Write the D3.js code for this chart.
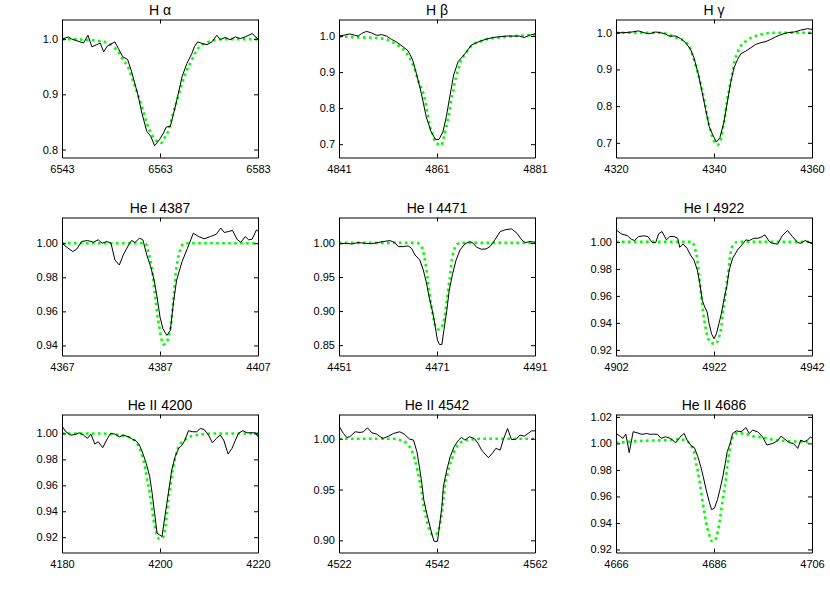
<!DOCTYPE html>
<html><head><meta charset="utf-8">
<script src="https://cdn.jsdelivr.net/npm/d3@7"></script>
<style>
body{margin:0;background:#fff}
text{font-family:"Liberation Sans",Arial,Helvetica,sans-serif;fill:#000}
</style>
</head><body>
<svg id="chart" width="830" height="593"></svg>
<script>
// ---------- data ----------
const titles = ["H \u03b1","H \u03b2","H \u03b3","He I 4387","He I 4471","He I 4922","He II 4200","He II 4542","He II 4686"];
const xTicks = [[6543,6563,6583],[4841,4861,4881],[4320,4340,4360],
                [4367,4387,4407],[4451,4471,4491],[4902,4922,4942],
                [4180,4200,4220],[4522,4542,4562],[4666,4686,4706]];
const yTicks = [[0.8,0.9,1.0],[0.7,0.8,0.9,1.0],[0.7,0.8,0.9,1.0],
                [0.94,0.96,0.98,1.00],[0.85,0.90,0.95,1.00],[0.92,0.94,0.96,0.98,1.00],
                [0.92,0.94,0.96,0.98,1.00],[0.90,0.95,1.00],[0.92,0.94,0.96,0.98,1.00,1.02]];
const yLabelDigits = [1,1,1,2,2,2,2,2,2];
const yLimits = [[0.7856,1.0355],[0.663,1.046],[0.66,1.036],
                 [0.9341,1.0151],[0.8348,1.0373],[0.9158,1.0181],
                 [0.9082,1.0146],[0.888,1.0239],[0.9177,1.0218]];

const haObs = [[6543,1.000],[6544.3,1.004],[6545,1.000],[6546.7,0.995],[6547.4,0.993],[6548.3,1.007],[6549.1,0.986],[6550.1,0.990],[6550.8,0.993],[6551.5,0.977],[6552.3,0.988],[6552.8,0.990],[6553.8,0.995],[6554.5,0.983],[6555.4,0.968],[6556.4,0.963],[6557.2,0.941],[6558.5,0.899],[6559.3,0.866],[6560.3,0.833],[6561.1,0.824],[6561.9,0.807],[6562.9,0.818],[6563.7,0.830],[6564.3,0.841],[6565.1,0.842],[6565.8,0.866],[6566.6,0.896],[6567.5,0.932],[6568.5,0.956],[6569.5,0.974],[6570,0.986],[6570.7,0.995],[6571.6,0.992],[6572.6,0.990],[6573.6,0.995],[6574.6,1.007],[6575.3,0.999],[6576.3,1.003],[6577.3,0.999],[6578.4,1.004],[6579.4,1.001],[6580.4,1.004],[6581.8,1.010],[6583,1.000]];
const haMod = [[6543,1.000],[6545,1.000],[6547,0.999],[6549,0.998],[6551,0.996],[6552.3,0.993],[6553.5,0.986],[6554.5,0.977],[6555.5,0.962],[6556.6,0.947],[6557.2,0.932],[6557.9,0.914],[6558.6,0.896],[6559.3,0.878],[6560.3,0.848],[6561.3,0.827],[6562.4,0.815],[6563.2,0.812],[6564.1,0.824],[6564.8,0.836],[6565.4,0.857],[6566.1,0.878],[6566.8,0.899],[6567.5,0.920],[6568.5,0.944],[6569.5,0.962],[6570.5,0.980],[6571.5,0.989],[6572.6,0.994],[6574,0.998],[6576,1.000],[6583,1.000]];

const hbObs = [[4841,1.000],[4842.2,1.003],[4843.2,1.006],[4844.3,1.002],[4844.9,1.000],[4845.6,1.007],[4846.6,1.013],[4847.6,1.009],[4848.7,1.002],[4849.7,1.004],[4850.7,1.000],[4851.7,0.991],[4852.7,0.984],[4854.1,0.970],[4855.1,0.959],[4856,0.935],[4856.8,0.896],[4857.8,0.841],[4858.8,0.776],[4859.8,0.734],[4860.7,0.713],[4861.4,0.713],[4862.2,0.734],[4862.9,0.776],[4863.6,0.831],[4864.4,0.892],[4865.3,0.929],[4866.2,0.943],[4867,0.956],[4868,0.975],[4869,0.981],[4870,0.987],[4871,0.991],[4872.4,0.996],[4873.7,0.998],[4875.1,1.000],[4876.5,1.000],[4877.8,1.000],[4878.8,0.996],[4879.8,1.002],[4881,1.006]];
const hbMod = [[4841,0.999],[4842.6,0.998],[4845.3,0.996],[4848,0.995],[4849.3,0.994],[4850.7,0.991],[4851.7,0.984],[4852.7,0.977],[4853.7,0.968],[4854.8,0.952],[4855.8,0.929],[4856.5,0.906],[4857.1,0.878],[4857.8,0.855],[4858.5,0.827],[4858.8,0.804],[4859.2,0.776],[4859.5,0.753],[4860.1,0.730],[4860.5,0.711],[4861.2,0.700],[4861.9,0.697],[4862.4,0.720],[4862.9,0.748],[4863.2,0.767],[4863.6,0.794],[4863.9,0.822],[4864.3,0.845],[4864.6,0.869],[4864.9,0.887],[4865.4,0.910],[4865.9,0.933],[4866.6,0.947],[4867.6,0.966],[4868.7,0.980],[4869.7,0.984],[4871,0.991],[4872.4,0.994],[4873.7,0.996],[4875.1,0.998],[4876.5,1.000],[4879.2,1.002],[4881,1.003]];

const hgObs = [[4320,1.000],[4321.6,1.000],[4323.3,1.002],[4324.6,1.005],[4325.7,1.000],[4326.7,0.997],[4328.1,1.002],[4329.1,1.000],[4330.1,0.997],[4330.8,0.991],[4332.2,0.991],[4333.2,0.984],[4334.2,0.973],[4335.2,0.955],[4335.9,0.932],[4336.9,0.882],[4337.6,0.836],[4338.3,0.791],[4339,0.745],[4339.7,0.723],[4340.5,0.702],[4341.2,0.714],[4342,0.755],[4342.7,0.809],[4343.4,0.864],[4344.1,0.905],[4344.8,0.927],[4345.5,0.943],[4346.5,0.950],[4347.5,0.959],[4348.5,0.968],[4349.6,0.973],[4350.6,0.976],[4351.6,0.982],[4352.6,0.989],[4353.7,0.995],[4355,1.000],[4356.4,1.002],[4357.7,1.007],[4359.1,1.011],[4360,1.009]];
const hgMod = [[4320,1.000],[4325,1.000],[4329,1.000],[4330.5,0.996],[4331.8,0.988],[4333.2,0.982],[4334.2,0.975],[4335.2,0.955],[4335.9,0.927],[4336.6,0.895],[4337.3,0.859],[4338,0.818],[4338.6,0.773],[4339.3,0.732],[4340,0.705],[4340.7,0.695],[4341.2,0.700],[4341.7,0.732],[4342.2,0.768],[4342.7,0.818],[4343.3,0.859],[4343.8,0.895],[4344.2,0.923],[4344.8,0.945],[4345.5,0.964],[4346.5,0.977],[4347.5,0.986],[4348.9,0.993],[4350.2,0.997],[4352.3,1.000],[4360,1.000]];

const he4387Obs = [[4367,1.0000],[4368,0.9976],[4369.2,0.9951],[4370,0.9965],[4371,1.0010],[4372.2,1.0016],[4373.4,1.0006],[4374.4,1.0020],[4375.2,1.0000],[4376.1,1.0010],[4377,1.0000],[4377.8,0.9902],[4378.7,0.9872],[4379.5,0.9931],[4380.6,0.9990],[4381.2,1.0016],[4381.9,1.0004],[4382.8,1.0030],[4383.5,1.0020],[4384.3,0.9931],[4385.1,0.9862],[4385.8,0.9784],[4386.4,0.9685],[4387,0.9567],[4387.6,0.9498],[4388.4,0.9459],[4389.1,0.9488],[4389.8,0.9666],[4390.4,0.9784],[4391.5,0.9892],[4392.6,0.9970],[4393.8,1.0059],[4394.9,1.0039],[4396,1.0026],[4397.3,1.0039],[4398.5,1.0053],[4399.4,1.0089],[4400.1,1.0063],[4401,1.0069],[4401.8,1.0075],[4402.8,1.0020],[4403.5,1.0006],[4404.4,1.0039],[4405.1,1.0020],[4405.8,1.0024],[4406.7,1.0079],[4407,1.0069]];
const he4387Mod = [[4367,1.000],[4384,1.000],[4384.6,0.995],[4385.1,0.989],[4385.5,0.982],[4385.8,0.974],[4386.1,0.967],[4386.4,0.959],[4386.8,0.952],[4387.2,0.945],[4387.7,0.9406],[4388.4,0.942],[4388.9,0.947],[4389.3,0.953],[4389.6,0.963],[4389.9,0.972],[4390.2,0.982],[4390.6,0.990],[4391.1,0.996],[4391.8,0.9996],[4392.5,1.000],[4407,1.000]];

const he4471Obs = [[4451,0.998],[4452.2,0.9995],[4453.6,0.9985],[4454.9,1.0005],[4456.3,0.9995],[4457.7,0.999],[4459,1.0005],[4460,1.002],[4461.4,1.0034],[4462.4,1.0005],[4463.1,0.9946],[4464.1,0.9946],[4465.1,0.9956],[4465.8,0.9921],[4466.5,0.9823],[4467.5,0.9749],[4468.2,0.9602],[4468.8,0.9429],[4469.4,0.9208],[4470.1,0.8987],[4470.6,0.8790],[4471.1,0.8569],[4471.5,0.8510],[4472,0.8510],[4472.4,0.8716],[4473,0.9011],[4473.5,0.9306],[4474.2,0.9552],[4474.9,0.9749],[4475.7,0.9897],[4476.7,0.9985],[4477.7,1.0020],[4478.4,0.9995],[4479.1,0.9936],[4480.1,0.9907],[4481,0.9911],[4481.8,0.9946],[4482.8,1.0044],[4483.9,1.0167],[4484.9,1.0192],[4486.2,1.0207],[4487.3,1.0143],[4488.3,1.0044],[4489,1.0005],[4490,1.002],[4491,1.001]];
const he4471Mod = [[4451,1.000],[4467,1.000],[4467.5,0.997],[4468.1,0.990],[4468.4,0.980],[4468.7,0.968],[4469,0.953],[4469.3,0.936],[4469.6,0.918],[4470,0.901],[4470.3,0.889],[4470.8,0.876],[4471.4,0.873],[4472.1,0.879],[4472.5,0.889],[4472.8,0.904],[4473.1,0.921],[4473.4,0.938],[4473.7,0.953],[4473.9,0.968],[4474.2,0.982],[4474.6,0.992],[4475.1,0.998],[4475.8,1.000],[4491,1.000]];

const he4922Obs = [[4902,1.0089],[4903.2,1.0057],[4904.3,1.0047],[4905.1,1.0020],[4905.8,1.0010],[4906.6,1.0040],[4907.7,1.0045],[4908.5,1.0040],[4909.4,0.9995],[4910.1,0.9995],[4910.7,1.0060],[4911.4,1.0077],[4912.3,1.0015],[4913,1.0040],[4913.8,1.0040],[4914.6,1.0027],[4915,0.9960],[4915.7,0.9985],[4916.5,0.9953],[4917.2,0.9903],[4917.9,0.9866],[4918.6,0.9791],[4919.1,0.9692],[4919.6,0.9568],[4920.1,0.9518],[4920.6,0.9481],[4921,0.9394],[4921.5,0.9319],[4922,0.9282],[4922.5,0.9319],[4923,0.9394],[4923.5,0.9468],[4924,0.9568],[4924.6,0.9667],[4925.1,0.9791],[4925.8,0.9878],[4926.8,0.9940],[4927.8,0.9983],[4928.5,1.0015],[4929.2,1.0010],[4930.1,1.0027],[4930.9,1.0027],[4931.6,1.0035],[4932.4,1.0052],[4933.3,1.0002],[4933.9,0.9990],[4935,0.9983],[4935.9,1.0045],[4937,1.0084],[4938,1.0040],[4939.1,0.9995],[4939.7,0.9990],[4940.6,1.0010],[4941.5,0.9995],[4942,0.9985]];
const he4922Mod = [[4902,1.000],[4917.5,1.000],[4917.9,0.9978],[4918.2,0.994],[4918.6,0.9866],[4918.9,0.977],[4919.2,0.967],[4919.5,0.957],[4919.8,0.947],[4920.2,0.938],[4920.6,0.931],[4921.5,0.925],[4922.3,0.9245],[4923,0.929],[4923.5,0.937],[4923.8,0.947],[4924.2,0.957],[4924.5,0.967],[4924.9,0.977],[4925.2,0.9866],[4925.5,0.994],[4926.1,0.9985],[4926.8,1.000],[4942,1.000]];

const he4200Obs = [[4180,1.0056],[4180.8,1.0013],[4181.8,0.9987],[4182.7,0.9992],[4183.5,1.0005],[4184.4,0.9987],[4185.2,0.9962],[4185.9,0.9995],[4186.7,0.9918],[4187.4,0.9936],[4188.3,0.9890],[4189.1,0.9949],[4189.9,1.0000],[4190.8,0.9995],[4191.7,0.9974],[4192.5,0.9987],[4193.6,0.9974],[4194.4,0.9954],[4195.1,0.9944],[4195.8,0.9910],[4196.5,0.9846],[4197.2,0.9769],[4197.9,0.9667],[4198.4,0.9538],[4198.9,0.9385],[4199.4,0.9231],[4199.9,0.9218],[4200.4,0.9205],[4200.9,0.9333],[4201.4,0.9462],[4202,0.9615],[4202.4,0.9718],[4203.1,0.9821],[4203.8,0.9885],[4204.5,0.9910],[4205.1,0.9949],[4205.8,1.0021],[4206.7,1.0013],[4207.5,1.0013],[4208.2,1.0038],[4209,1.0031],[4209.9,0.9987],[4210.7,0.9928],[4211.5,0.9962],[4212.3,0.9987],[4213,0.9949],[4213.9,0.9841],[4214.7,0.9885],[4215.4,0.9949],[4216,1.0000],[4216.9,1.0021],[4217.8,1.0005],[4218.6,1.0005],[4219.5,1.0005],[4220,0.9974]];
const he4200Mod = [[4180,1.000],[4188,1.000],[4190,0.9995],[4192,0.9985],[4194.2,0.9962],[4195.3,0.9923],[4196,0.987],[4196.5,0.981],[4197,0.973],[4197.4,0.964],[4197.9,0.954],[4198.3,0.9436],[4198.7,0.933],[4199.2,0.9244],[4199.9,0.9185],[4200.6,0.920],[4201.1,0.928],[4201.4,0.938],[4201.7,0.949],[4202.1,0.959],[4202.4,0.968],[4202.8,0.9756],[4203.2,0.983],[4203.8,0.9897],[4204.5,0.9936],[4205.5,0.996],[4206.5,0.998],[4208,0.999],[4211,1.000],[4220,1.000]];

const he4542Obs = [[4522,1.0124],[4522.9,1.0052],[4523.6,1.0013],[4524.2,1.0020],[4525.3,1.0069],[4526.3,1.0062],[4527,1.0069],[4527.8,1.0108],[4528.7,1.0059],[4529.7,1.0046],[4530.4,1.0020],[4531,1.0003],[4532.1,1.0026],[4533.1,1.0052],[4534.4,1.0069],[4535.3,1.0046],[4536.4,0.9997],[4537.2,0.9987],[4537.9,0.9873],[4538.4,0.9725],[4538.9,0.9562],[4539.3,0.9399],[4539.9,0.9268],[4540.4,0.9170],[4540.9,0.9072],[4541.4,0.8990],[4542.1,0.8990],[4542.5,0.9137],[4543,0.9333],[4543.3,0.9529],[4544,0.9693],[4544.7,0.9824],[4545.5,0.9922],[4546.4,0.9987],[4547,1.0013],[4547.7,0.9987],[4548.6,1.0020],[4549.6,1.0003],[4550.4,0.9954],[4551.1,0.9889],[4551.8,0.9850],[4552.5,0.9814],[4553.4,0.9863],[4554,0.9905],[4554.9,0.9889],[4555.5,0.9987],[4556.4,1.0101],[4557.2,0.9993],[4558.1,0.9993],[4558.9,1.0036],[4559.8,1.0026],[4560.6,1.0052],[4561.3,1.0078],[4562,1.0078]];
const he4542Mod = [[4522,1.000],[4533,1.000],[4534.4,0.9987],[4535.5,0.997],[4536.1,0.9938],[4536.8,0.9889],[4537.5,0.979],[4538,0.9693],[4538.4,0.9595],[4538.9,0.9464],[4539.3,0.9333],[4539.9,0.920],[4540.4,0.9105],[4541.1,0.9056],[4541.9,0.9065],[4542.5,0.9137],[4543,0.9268],[4543.3,0.940],[4543.6,0.953],[4544.1,0.9644],[4544.5,0.9725],[4545,0.979],[4545.5,0.9873],[4546,0.9922],[4546.7,0.996],[4547.7,0.998],[4549.1,0.9993],[4551,1.000],[4562,1.000]];

const he4686Obs = [[4666,1.0075],[4666.8,1.0055],[4667.4,1.0038],[4668,1.0070],[4668.7,0.9930],[4669.5,1.0088],[4670.3,1.0080],[4671.3,1.0068],[4672.2,1.0075],[4673,1.0068],[4673.7,1.0070],[4674.5,1.0068],[4675.2,1.0038],[4676.1,1.0050],[4677.1,1.0038],[4678.2,1.0005],[4679,1.0045],[4679.9,1.0075],[4680.5,1.0025],[4681.4,0.9980],[4682,0.9968],[4682.7,0.9900],[4683.3,0.9825],[4683.8,0.9750],[4684.4,0.9650],[4685,0.9563],[4685.5,0.9500],[4686.1,0.9513],[4686.7,0.9575],[4687.2,0.9650],[4687.8,0.9750],[4688.3,0.9850],[4688.7,0.9938],[4689.3,1.0000],[4689.8,1.0075],[4690.6,1.0095],[4691.3,1.0088],[4691.8,1.0093],[4692.5,1.0120],[4693.2,1.0075],[4693.9,1.0100],[4694.9,1.0088],[4695.9,1.0050],[4696.8,0.9988],[4698,1.0000],[4699,1.0020],[4699.7,1.0055],[4700.5,1.0030],[4701.4,1.0005],[4702.2,1.0000],[4703.1,0.9962],[4703.7,1.0025],[4704.4,1.0012],[4705.1,1.0025],[4705.7,1.0050],[4706,1.0038]];
const he4686Mod = [[4666,1.0005],[4668,1.001],[4670,1.0017],[4672,1.002],[4674,1.0022],[4676.4,1.0025],[4678.5,1.003],[4680.2,1.0025],[4681.2,0.9988],[4681.9,0.9938],[4682.2,0.9875],[4682.7,0.979],[4683.1,0.970],[4683.5,0.960],[4684,0.9488],[4684.4,0.940],[4684.9,0.9325],[4685.7,0.926],[4686.3,0.9275],[4686.8,0.934],[4687.2,0.9425],[4687.6,0.9525],[4688,0.9625],[4688.4,0.9725],[4688.7,0.9825],[4689.1,0.9925],[4689.5,1.0012],[4690.1,1.0062],[4690.9,1.008],[4691.8,1.0075],[4692.8,1.0068],[4693.9,1.0055],[4694.9,1.005],[4696.9,1.0038],[4698.3,1.0025],[4699.7,1.002],[4701.7,1.0015],[4703.7,1.0012],[4706,1.001]];

const observed = [haObs,hbObs,hgObs,he4387Obs,he4471Obs,he4922Obs,he4200Obs,he4542Obs,he4686Obs];
const models = [haMod,hbMod,hgMod,he4387Mod,he4471Mod,he4922Mod,he4200Mod,he4542Mod,he4686Mod];

// ---------- layout ----------
const colLeft = [62, 339, 616];
const rowTop = [19.5, 217.5, 414.5];
const pw = 196, ph = 138;

const svg = d3.select("#chart");
svg.append("rect").attr("width",830).attr("height",593).attr("fill","#fff");

titles.forEach((title, i) => {
  const col = i % 3, row = Math.floor(i / 3);
  const g = svg.append("g").attr("transform", `translate(${colLeft[col]},${rowTop[row]})`);
  const xt = xTicks[i];
  const x = d3.scaleLinear().domain([xt[0], xt[xt.length-1]]).range([0, pw]);
  const y = d3.scaleLinear().domain(yLimits[i]).range([ph, 0]);
  const fmt = d3.format("." + yLabelDigits[i] + "f");

  g.append("clipPath").attr("id","clip"+i).append("rect").attr("width",pw).attr("height",ph);

  const plot = g.append("g").attr("clip-path", `url(#clip${i})`);
  const line = d3.line().x(d => x(d[0])).y(d => y(d[1]));
  plot.append("path").datum(models[i])
    .attr("d", line.curve(d3.curveMonotoneX))
    .attr("fill","none").attr("stroke","#00ff00").attr("stroke-width",2.6)
    .attr("stroke-dasharray","2.6,3.4");
  plot.append("path").datum(observed[i])
    .attr("d", d3.line().x(d => x(d[0])).y(d => y(d[1]))(observed[i]))
    .attr("fill","none").attr("stroke","#000").attr("stroke-width",1)
    .attr("stroke-linejoin","round");

  const styleAxis = sel => {
    sel.selectAll("path.domain").attr("stroke","#000").attr("stroke-width",1);
    sel.selectAll(".tick line").attr("stroke","#000");
    sel.selectAll("text").attr("font-size","11px").attr("fill","#000")
      .attr("font-family",'"Liberation Sans",Arial,Helvetica,sans-serif');
  };
  g.append("g").attr("transform",`translate(0,${ph})`)
    .call(d3.axisBottom(x).tickValues(xt).tickSize(-4).tickSizeOuter(0).tickPadding(8).tickFormat(d3.format("d")))
    .call(styleAxis);
  g.append("g")
    .call(d3.axisTop(x).tickValues(xt).tickSize(-4).tickSizeOuter(0).tickFormat(""))
    .call(styleAxis);
  g.append("g")
    .call(d3.axisLeft(y).tickValues(yTicks[i]).tickSize(-4).tickSizeOuter(0).tickPadding(4).tickFormat(fmt))
    .call(styleAxis);
  g.append("g").attr("transform",`translate(${pw},0)`)
    .call(d3.axisRight(y).tickValues(yTicks[i]).tickSize(-4).tickSizeOuter(0).tickFormat(""))
    .call(styleAxis);

  g.append("text").attr("x", pw/2).attr("y", -5).attr("text-anchor","middle")
    .attr("font-size","14px").text(title);
});
</script>
</body></html>
